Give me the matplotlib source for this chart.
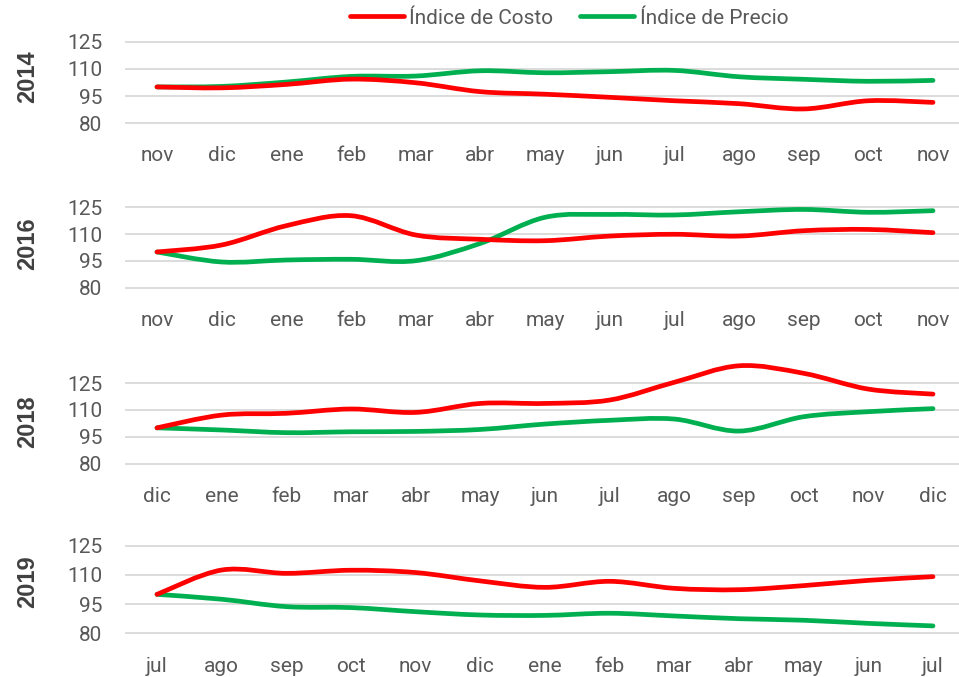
import matplotlib
matplotlib.use("Agg")
import matplotlib.pyplot as plt
from matplotlib.path import Path
from matplotlib.patches import PathPatch
from matplotlib.lines import Line2D

# ---- data -------------------------------------------------------------
years = ["2014", "2016", "2018", "2019"]

months_2014 = ["nov", "dic", "ene", "feb", "mar", "abr", "may", "jun", "jul", "ago", "sep", "oct", "nov"]
months_2016 = ["nov", "dic", "ene", "feb", "mar", "abr", "may", "jun", "jul", "ago", "sep", "oct", "nov"]
months_2018 = ["dic", "ene", "feb", "mar", "abr", "may", "jun", "jul", "ago", "sep", "oct", "nov", "dic"]
months_2019 = ["jul", "ago", "sep", "oct", "nov", "dic", "ene", "feb", "mar", "abr", "may", "jun", "jul"]

costo_2014 = [100, 99.5, 101.4, 104.3, 102.3, 97.4, 96.0, 94.3, 92.4, 90.8, 87.9, 92.4, 91.5]
precio_2014 = [100, 100.3, 102.7, 105.8, 106.0, 108.9, 107.8, 108.4, 109.1, 105.6, 104.2, 103.1, 103.6]

costo_2016 = [100, 103.9, 114.7, 120.3, 109.5, 107.1, 106.3, 108.9, 109.9, 108.9, 111.9, 112.6, 110.8]
precio_2016 = [100, 94.4, 95.5, 95.9, 95.1, 104.8, 119.4, 121.0, 120.7, 122.5, 123.8, 122.2, 123.1]

costo_2018 = [100, 107.1, 108.1, 110.5, 108.6, 113.6, 113.6, 115.5, 125.4, 134.6, 130.4, 121.6, 118.8]
precio_2018 = [100, 98.8, 97.3, 97.8, 98.0, 99.1, 102.1, 104.2, 104.9, 98.2, 106.2, 109.0, 110.7]

costo_2019 = [100, 112.5, 110.8, 112.4, 111.2, 106.9, 103.6, 106.7, 103.1, 102.4, 104.5, 107.2, 109.1]
precio_2019 = [100, 97.5, 93.7, 93.2, 91.1, 89.4, 89.2, 90.3, 88.9, 87.5, 86.7, 85.1, 83.8]

y_ticks = [80, 95, 110, 125]

panels = [
    (years[0], months_2014, costo_2014, precio_2014),
    (years[1], months_2016, costo_2016, precio_2016),
    (years[2], months_2018, costo_2018, precio_2018),
    (years[3], months_2019, costo_2019, precio_2019),
]

# ---- style ------------------------------------------------------------
RED = "#FF0000"
GREEN = "#00B050"
TXT = "#595959"
GRID = "#D9D9D9"
LW = 3.4

plt.rcParams["font.family"] = ["Roboto", "DejaVu Sans"]

W, H = 959, 677
fig = plt.figure(figsize=(W / 100, H / 100), dpi=100)

# pixel rows of the 80 and 125 gridlines for each panel
grid_rows = [(123.3, 41.5), (287.7, 207.3), (463.7, 383.0), (633.3, 545.7)]
year_rows = [77, 244, 422, 582]
x_first, x_last = 157.0, 933.0
step = (x_last - x_first) / 12
left_px = x_first - 0.5 * step
right_px = x_last + 0.5 * step
YMIN, YMAX = 78, 127


def smooth_path(xs, ys):
    """Bezier path through the points with Catmull-Rom style tangents."""
    pts = list(zip(xs, ys))
    n = len(pts)
    verts = [pts[0]]
    codes = [Path.MOVETO]
    for i in range(n - 1):
        p0 = pts[i - 1] if i > 0 else pts[i]
        p1 = pts[i]
        p2 = pts[i + 1]
        p3 = pts[i + 2] if i + 2 < n else pts[i + 1]
        c1 = (p1[0] + (p2[0] - p0[0]) / 6, p1[1] + (p2[1] - p0[1]) / 6)
        c2 = (p2[0] - (p3[0] - p1[0]) / 6, p2[1] - (p3[1] - p1[1]) / 6)
        verts += [c1, c2, p2]
        codes += [Path.CURVE4] * 3
    return Path(verts, codes)


for (year, months, costo, precio), (y80, y125), yr in zip(panels, grid_rows, year_rows):
    ppu = (y80 - y125) / 45.0
    bot_px = y80 + (80 - YMIN) * ppu
    top_px = y125 - (YMAX - 125) * ppu
    ax = fig.add_axes([left_px / W, 1 - bot_px / H,
                       (right_px - left_px) / W, (bot_px - top_px) / H])
    ax.set_xlim(-0.5, 12.5)
    ax.set_ylim(YMIN, YMAX)
    ax.set_facecolor("none")

    xs = list(range(len(months)))
    for series, color, z in ((precio, GREEN, 3), (costo, RED, 4)):
        patch = PathPatch(smooth_path(xs, series), facecolor="none", edgecolor=color,
                          lw=LW, capstyle="round", joinstyle="round", zorder=z, clip_on=False)
        ax.add_patch(patch)

    for v in y_ticks:
        ax.axhline(v, color=GRID, lw=1.3, zorder=1)

    for s in ax.spines.values():
        s.set_visible(False)
    ax.set_yticks(y_ticks)
    ax.set_yticklabels([str(v) for v in y_ticks])
    ax.set_xticks(xs)
    ax.set_xticklabels(months)
    ax.tick_params(axis="y", length=0, pad=16, labelsize=15, labelcolor=TXT)
    ax.tick_params(axis="x", length=0, pad=14, labelsize=15, labelcolor=TXT)

    fig.text(28 / W, 1 - yr / H, year, rotation=90, ha="center", va="center",
             fontsize=17, fontweight="bold", color="#404040",
             family=["Liberation Sans", "DejaVu Sans"])

handles = [Line2D([], [], color=RED, lw=LW, solid_capstyle="round"),
           Line2D([], [], color=GREEN, lw=LW, solid_capstyle="round")]
fig.legend(handles, ["Índice de Costo", "Índice de Precio"], loc="center",
           bbox_to_anchor=(569 / W, 1 - 18 / H), ncol=2, frameon=False,
           fontsize=15, labelcolor=TXT, handlelength=2.6, handletextpad=0.25,
           columnspacing=1.3, borderpad=0, borderaxespad=0)

fig.savefig("out.png", dpi=100)
